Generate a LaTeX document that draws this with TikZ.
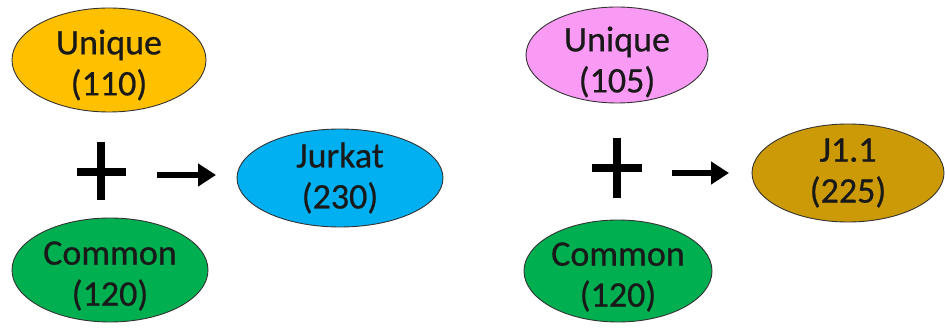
\documentclass[tikz,border=0pt]{standalone}
\usepackage{fontspec}
\setmainfont{Carlito}[FakeBold=0.6]
\usetikzlibrary{shapes.geometric,arrows.meta}
\definecolor{cgold}{HTML}{FFC000}
\definecolor{cblue}{HTML}{00B0F0}
\definecolor{cgreen}{HTML}{00B050}
\definecolor{cpink}{HTML}{F99AF5}
\definecolor{cochre}{HTML}{CC9A06}
\tikzset{
  set/.style={ellipse, draw=black!80, line width=0.9pt, inner sep=0pt},
  settext/.style={align=center, inner sep=0pt, text=black!90,
    font=\fontsize{36}{41}\selectfont},
  plusbar/.style={line width=8pt},
  bigarrow/.style={line width=6pt, -{Triangle[length=18pt,width=22pt]}},
}
\begin{document}
\begin{tikzpicture}[x=1pt,y=-1pt]
\useasboundingbox (0,0) rectangle (945,328);
% left group
\node[set, fill=cgold, minimum width=194pt, minimum height=104pt] (u1) at (109,60) {};
\node[settext, yshift=-5pt] (u1t) at (u1.center) {Unique\\(110)};
\node[set, fill=cgreen, minimum width=196pt, minimum height=104pt] (c1) at (110,270) {};
\node[settext, yshift=-6pt] (c1t) at (c1.center) {Common\\(120)};
\node[set, fill=cblue, minimum width=206pt, minimum height=98pt] (j) at (340,178) {};
\node[settext] (jt) at (j.center) {Jurkat\\(230)};
\coordinate (p1l) at (77,172); \coordinate (p1r) at (126,172);
\coordinate (p1t) at (101,142); \coordinate (p1b) at (101,200);
\draw[plusbar] (p1l) -- (p1r) (p1t) -- (p1b);
\coordinate (a1s) at (157,175); \coordinate (a1e) at (216,175);
\draw[bigarrow] (a1s) -- (a1e);
% right group
\node[set, fill=cpink, minimum width=182pt, minimum height=96pt] (u2) at (617,55) {};
\node[settext, yshift=-7pt] (u2t) at (u2.center) {Unique\\(105)};
\node[set, fill=cgreen, minimum width=188pt, minimum height=102pt] (c2) at (618,271) {};
\node[settext, yshift=-6pt] (c2t) at (c2.center) {Common\\(120)};
\node[set, fill=cochre, minimum width=192pt, minimum height=98pt] (k) at (848,173) {};
\node[settext] (kt) at (k.center) {J1.1\\(225)};
\coordinate (p2l) at (592,168); \coordinate (p2r) at (642,168);
\coordinate (p2t) at (617,138); \coordinate (p2b) at (617,198);
\draw[plusbar] (p2l) -- (p2r) (p2t) -- (p2b);
\coordinate (a2s) at (672,173); \coordinate (a2e) at (729,173);
\draw[bigarrow] (a2s) -- (a2e);
\end{tikzpicture}
\end{document}
